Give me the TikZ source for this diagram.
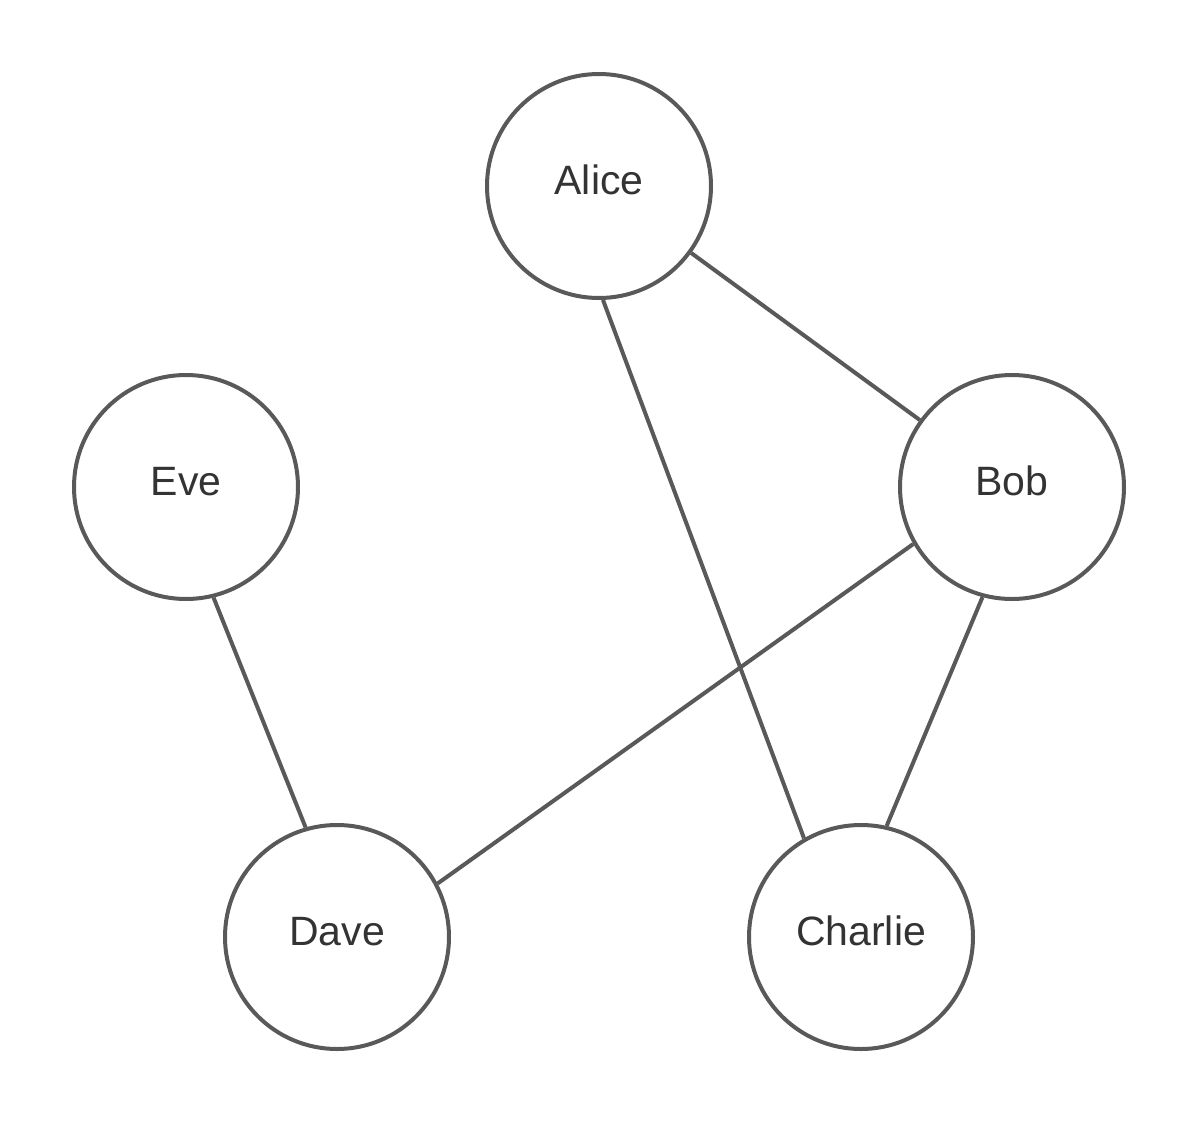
\documentclass[tikz,border=0pt]{standalone}
\usepackage{fontspec}
\setmainfont{Liberation Sans}
\definecolor{edgegray}{HTML}{595959}
\definecolor{textgray}{HTML}{333333}
\begin{document}
\begin{tikzpicture}[x=1pt,y=-1pt,
  person/.style={circle,draw=edgegray,line width=4pt,minimum size=224pt,inner sep=0pt,
    text=textgray,font=\fontsize{41}{44}\selectfont,text height=29.4pt,text depth=13pt},
  link/.style={draw=edgegray,line width=4pt}]
\useasboundingbox (0,0) rectangle (1200,1125);
\node[person] (alice) at (599,186) {Alice};
\node[person] (bob) at (1012,487) {Bob};
\node[person] (eve) at (186,487) {Eve};
\node[person] (dave) at (337,937) {Dave};
\node[person] (charlie) at (861,937) {Charlie};
\draw[link] (alice.-36.8) -- (bob.144.9);
\draw[link] (alice.-88.5) -- (charlie.120.9);
\draw[link] (bob.-150.8) -- (dave.28.5);
\draw[link] (bob.-105.7) -- (charlie.77.8);
\draw[link] (eve.-76.3) -- (dave.106.8);
\end{tikzpicture}
\end{document}
